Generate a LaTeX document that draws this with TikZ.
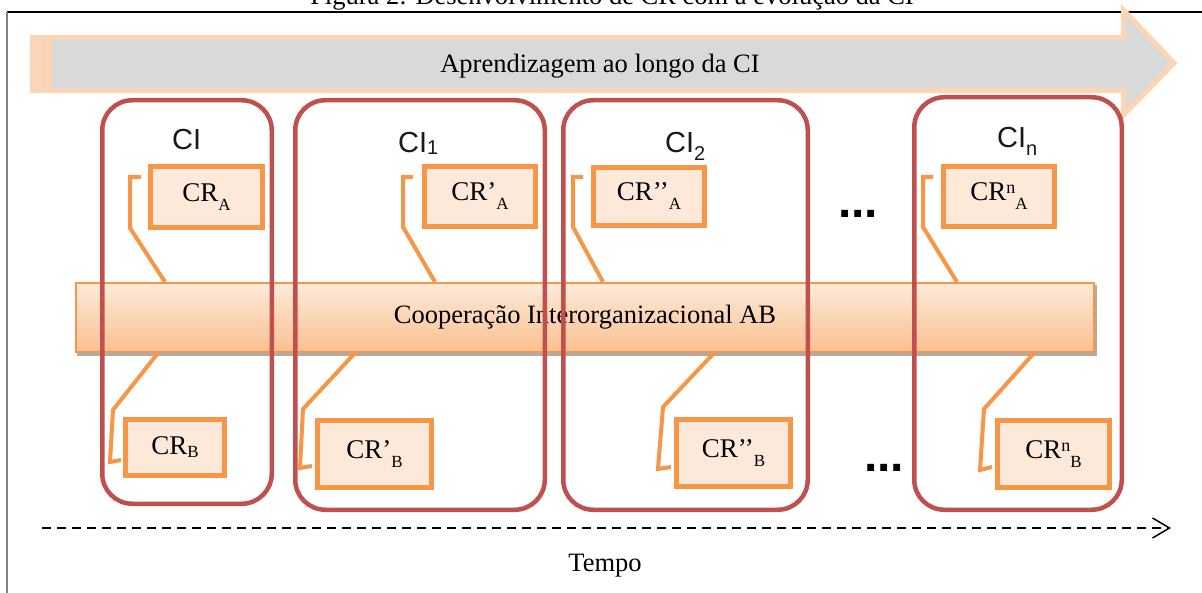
\documentclass[tikz,border=0pt]{standalone}
\usepackage{fontspec}
\setmainfont{Liberation Serif}
\newfontfamily\arialfont{Liberation Sans}
\usetikzlibrary{positioning, arrows.meta, calc}
\definecolor{cired}{HTML}{C0504D}
\definecolor{crorange}{HTML}{F79646}
\definecolor{crfill}{HTML}{FDE9D9}
\definecolor{arrpeach}{HTML}{FCD5B4}
\definecolor{arrgray}{HTML}{D9D9D9}
\definecolor{bartop}{HTML}{FDEADA}
\definecolor{barbot}{HTML}{FAC08F}
\newcommand{\crsub}[2][9pt]{\raisebox{-#1}{\fontsize{17}{17}\selectfont #2}}
\newcommand{\crsupn}{\raisebox{7pt}{\fontsize{18}{18}\selectfont n}}
\newcommand{\cisub}[2]{\raisebox{-#1}{\fontsize{20}{20}\selectfont #2}}

\tikzset{
  cibox/.style={draw=cired, line width=4.5pt, rounded corners=30pt, inner sep=0pt},
  crbox/.style={draw=crorange, fill=crfill, line width=5pt, inner sep=0pt,
                font=\fontsize{27}{30}\selectfont},
  cilabel/.style={anchor=base west, inner sep=0pt, text=black!90,
                  font=\arialfont\fontsize{29}{32}\selectfont},
  callout/.style={draw=crorange, line width=4pt},
  bigtext/.style={font=\fontsize{26.5}{30}\selectfont},
  moredots/.style={anchor=base, inner sep=0pt,
                   font=\arialfont\bfseries\fontsize{48}{48}\selectfont}
}

\begin{document}
\begin{tikzpicture}[x=1pt, y=-1pt]
  \useasboundingbox (0,0) rectangle (1202,593);
  \fill[white] (0,0) rectangle (1202,593);

  % caption cut at the top edge
  \node[bigtext, anchor=base] (caption) at (612,5)
    {Figura 2: Desenvolvimento de CR com a evolução da CI};
  \draw[black, line width=1.5pt] (7,12) -- (1202,12);
  \draw[gray, line width=1.5pt] (7,12) -- (7,593);

  % learning arrow
  \draw[draw=arrpeach, fill=arrgray, line width=5pt]
    (33,37.5) -- (1123.5,37.5) -- (1123.5,10) -- (1174,63) -- (1123.5,115)
    -- (1123.5,90.5) -- (33,90.5) -- cycle;
  \fill[arrpeach] (30,35) rectangle (52,93);
  \draw[arrgray, line width=1pt] (43,41) -- (43,87);
  \node[bigtext] (learn) at (600,66) {Aprendizagem ao longo da CI};

  % cooperation bar
  \fill[gray!65] (77,285) rectangle (1097,356);
  \node[draw=crorange, line width=2pt, top color=bartop, bottom color=barbot,
        minimum width=1018pt, minimum height=69pt, bigtext] (coop) at (585,317.5)
    {Cooperação Interorganizacional AB};

  % callouts above the bar
  \draw[callout] (165,0 |- coop.north) -- (130,228) -- (130,177) -- (141,177);
  \draw[callout] (435,0 |- coop.north) -- (403,227) -- (403,177) -- (413,177);
  \draw[callout] (603,0 |- coop.north) -- (573,227) -- (573,177) -- (583,177);
  \draw[callout] (957,0 |- coop.north) -- (923,227) -- (923,177) -- (933,177);
  % callouts below the bar
  \draw[callout] (158,0 |- coop.south) -- (113,410) -- (110,462) -- (121,460);
  \draw[callout] (355,0 |- coop.south) -- (303,409) -- (300,468) -- (312,466);
  \draw[callout] (714,0 |- coop.south) -- (663,407) -- (658,469) -- (671,467);
  \draw[callout] (1034,0 |- coop.south) -- (984,409) -- (980,470) -- (992,467);

  % CI stages
  \node[cibox, minimum width=169.5pt, minimum height=403.5pt] (ci0) at (187,302) {};
  \node[cibox, minimum width=249.5pt, minimum height=409.5pt] (ci1) at (420,305) {};
  \node[cibox, minimum width=244.5pt, minimum height=409.5pt] (ci2) at (685.5,305) {};
  \node[cibox, minimum width=207.5pt, minimum height=412.5pt] (cin) at (1018,303.5) {};

  \node[cilabel] (lab0) at (172,150) {CI};
  \node[cilabel] (lab1) at (398,153) {CI\cisub{2pt}{1}};
  \node[cilabel] (lab2) at (665,153) {CI\cisub{8pt}{2}};
  \node[cilabel] (labn) at (997,148) {CI\cisub{8pt}{n}};

  % CR of A
  \node[crbox, minimum width=112pt, minimum height=61pt] (cra0) at (206.5,197) {CR\crsub{A}};
  \node[crbox, minimum width=111pt, minimum height=60pt] (cra1) at (480,196.5) {CR’\crsub{A}};
  \node[crbox, minimum width=111pt, minimum height=58pt] (cra2) at (649,196.5) {CR’’\crsub{A}};
  \node[crbox, minimum width=111pt, minimum height=60pt] (cran) at (999,196.5) {CR\crsupn\crsub{A}};
  % CR of B
  \node[crbox, minimum width=99pt, minimum height=56pt] (crb0) at (175,447.5) {CR\crsub[3pt]{B}};
  \node[crbox, minimum width=114pt, minimum height=67pt] (crb1) at (374.5,454) {CR’\crsub{B}};
  \node[crbox, minimum width=114pt, minimum height=67pt] (crb2) at (733.5,453) {CR’’\crsub{B}};
  \node[crbox, minimum width=112pt, minimum height=67pt] (crbn) at (1053.5,454) {CR\crsupn\crsub{B}};

  \node[moredots] (dotsa) at (858,218) {...};
  \node[moredots] (dotsb) at (884,471) {...};

  % time axis
  \coordinate (t0) at (42,528);
  \coordinate (t1) at (1171,528);
  \draw[line width=1.5pt, dash pattern=on 9pt off 6pt,
        -{Straight Barb[length=17pt, width=20pt]}] (t0) -- (t1);
  \node[bigtext, anchor=base] (tempo) at (605,571) {Tempo};
\end{tikzpicture}
\end{document}
